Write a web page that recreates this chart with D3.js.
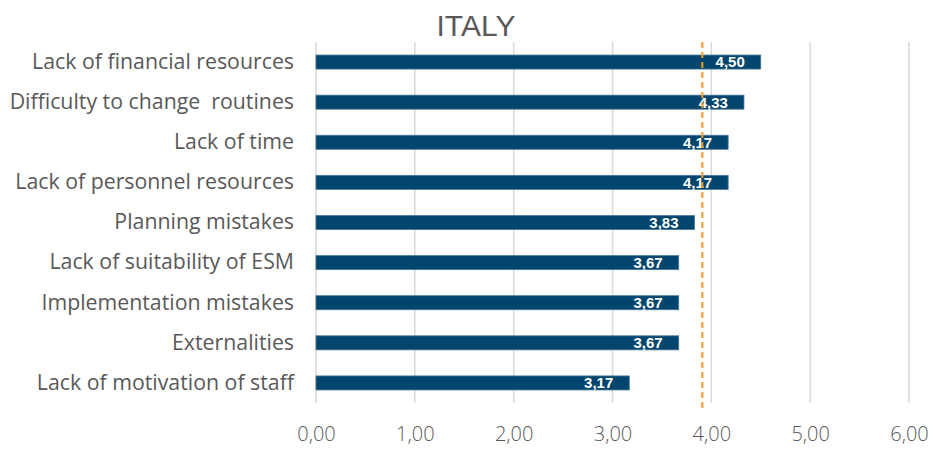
<!DOCTYPE html>
<html>
<head>
<meta charset="utf-8">
<script src="https://cdn.jsdelivr.net/npm/d3@7"></script>
<style>
  html, body { margin: 0; padding: 0; background: #fff; }
  svg { display: block; }
  svg text { white-space: pre; }
</style>
</head>
<body>
<svg id="chart" width="933" height="451"></svg>
<script>
// Barriers ranked by mean score (Italy)
const categories = [
  "Lack of financial resources",
  "Difficulty to change  routines",
  "Lack of time",
  "Lack of personnel resources",
  "Planning mistakes",
  "Lack of suitability of ESM",
  "Implementation mistakes",
  "Externalities",
  "Lack of motivation of staff"
];
const values = [4.50, 4.33, 4.17, 4.17, 3.83, 3.67, 3.67, 3.67, 3.17];
const tickValues = [0, 1, 2, 3, 4, 5, 6];
const title = "ITALY";

const svg = d3.select("#chart");
const fmt = v => d3.format(".2f")(v).replace(".", ",");

const x = d3.scaleLinear().domain([0, 6]).range([316, 909]);
const y = d3.scaleBand().domain(categories).range([42, 403]).paddingInner(0.65).paddingOuter(0.325);

// vertical gridlines
svg.append("g")
  .selectAll("line")
  .data(tickValues)
  .join("line")
  .attr("x1", d => x(d)).attr("x2", d => x(d))
  .attr("y1", 42).attr("y2", 403)
  .attr("stroke", "#d9d9d9").attr("stroke-width", 1.5);

// x axis labels
const xAxis = d3.axisBottom(x).tickValues(tickValues).tickFormat(fmt).tickSize(0).tickPadding(0);
const gx = svg.append("g").attr("transform", "translate(0,427)").call(xAxis);
gx.select(".domain").remove();
gx.selectAll("text")
  .attr("font-family", "'Open Sans', Lato, sans-serif")
  .attr("font-weight", 300)
  .attr("font-size", 20)
  .attr("fill", "#595959");

// category labels
const yAxis = d3.axisLeft(y).tickSize(0).tickPadding(0);
const gy = svg.append("g").attr("transform", "translate(294,0)").call(yAxis);
gy.select(".domain").remove();
gy.selectAll("text")
  .attr("font-family", "'Open Sans', Lato, sans-serif")
  .attr("font-weight", 400)
  .attr("font-size", 21.3)
  .attr("fill", "#595959");

// bars
svg.append("g")
  .selectAll("rect")
  .data(values)
  .join("rect")
  .attr("x", x(0))
  .attr("y", (d, i) => y(categories[i]))
  .attr("width", d => x(d) - x(0))
  .attr("height", y.bandwidth())
  .attr("fill", "#03466d")
  .attr("stroke", "#4a7796")
  .attr("stroke-width", 0.8);

// value labels
svg.append("g")
  .selectAll("text")
  .data(values)
  .join("text")
  .attr("x", d => x(d) - 16)
  .attr("y", (d, i) => y(categories[i]) + y.bandwidth() / 2)
  .attr("dy", "0.36em")
  .attr("text-anchor", "end")
  .attr("font-family", "'Liberation Sans Narrow', 'Liberation Sans', Arial, sans-serif")
  .attr("font-weight", "bold")
  .attr("font-size", 15)
  .attr("fill", "#ffffff")
  .text(fmt);

// mean reference line
const mean = d3.mean(values);
svg.append("line")
  .attr("x1", x(mean)).attr("x2", x(mean))
  .attr("y1", 42).attr("y2", 408)
  .attr("stroke", "#f39a2a")
  .attr("stroke-width", 2)
  .attr("stroke-dasharray", "6,4");

// title
svg.append("text")
  .attr("x", 476)
  .attr("y", 36)
  .attr("text-anchor", "middle")
  .attr("font-family", "'Liberation Sans Narrow', 'Liberation Sans', Arial, sans-serif")
  .attr("font-size", 30)
  .attr("fill", "#595959")
  .text(title);
</script>
</body>
</html>
